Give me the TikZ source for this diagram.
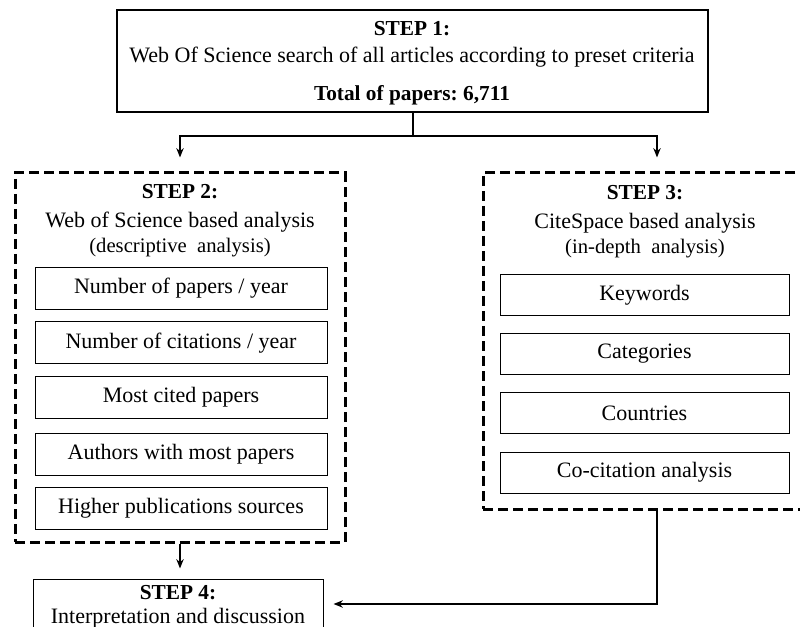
\documentclass[tikz,border=0pt]{standalone}
\usepackage{fontspec}
\setmainfont{Liberation Serif}
\usetikzlibrary{arrows.meta}
\frenchspacing

\tikzset{every picture/.style={line width=0.75pt}}
\tikzset{
  mainbox/.style={draw, line width=1pt, inner sep=0pt},
  dashbox/.style={draw, line width=2.25pt, dash pattern=on 7.5pt off 3.75pt, inner sep=0pt},
  itembox/.style={draw, line width=0.75pt, inner sep=0pt, font=\fontsize{16.5}{19}\selectfont},
  steptitle/.style={inner sep=0pt, font=\fontsize{16}{19}\selectfont\bfseries},
  steptext/.style={inner sep=0pt, font=\fontsize{16.5}{19}\selectfont},
  stepsub/.style={inner sep=0pt, font=\fontsize{15.5}{17}\selectfont},
  flowarrow/.style={line width=1.5pt, -{Stealth[length=7pt,width=5.5pt]}}
}

\begin{document}
\begin{tikzpicture}[x=0.75pt,y=0.75pt,yscale=-1,xscale=1]
    \useasboundingbox (0,0) rectangle (800,627);
    \clip (0,0) rectangle (800,627);

    % Step boxes
    \node [mainbox, minimum width=443.25pt, minimum height=76.5pt] (step1) at (412.5,61) {};
    \node [dashbox, minimum width=247.5pt, minimum height=276.75pt] (step2) at (180,357.5) {};
    \node [dashbox, minimum width=261pt, minimum height=252pt] (step3) at (657,341) {};
    \node [mainbox, line width=0.75pt, minimum width=217.5pt, minimum height=37.5pt] (step4) at (178,604) {};

    % Step 1 text
    \node [steptitle] (s1title) at (412,29) {STEP 1:};
    \node [steptext] (s1search) at (412,57) {Web Of Science search of all articles according to preset criteria};
    \node [steptitle] (s1total) at (412,95) {Total of papers: 6,711};

    % Step 2 text and items
    \node [steptitle] (s2title) at (180,192) {STEP 2:};
    \node [steptext] (s2name) at (180,222) {Web of Science based analysis};
    \node [stepsub] (s2kind) at (180,248) {(descriptive\ \ analysis)};
    \node [itembox, minimum width=219pt, minimum height=31.5pt] (papers) at (181,288.5) {Number of papers / year};
    \node [itembox, minimum width=219pt, minimum height=31.5pt] (citations) at (181,343) {Number of citations / year};
    \node [itembox, minimum width=219pt, minimum height=31.5pt] (mostcited) at (181,397.5) {Most cited papers};
    \node [itembox, minimum width=219pt, minimum height=31.5pt] (authors) at (181,454.5) {Authors with most papers};
    \node [itembox, minimum width=219pt, minimum height=31.5pt] (sources) at (181,508) {Higher publications sources};

    % Step 3 text and items
    \node [steptitle] (s3title) at (645,193) {STEP 3:};
    \node [steptext] (s3name) at (645,223) {CiteSpace based analysis};
    \node [stepsub] (s3kind) at (645,249) {(in-depth\ \ analysis)};
    \node [itembox, minimum width=216.75pt, minimum height=30.75pt] (keywords) at (644.5,295.5) {Keywords};
    \node [itembox, minimum width=216.75pt, minimum height=30.75pt] (categories) at (644.5,354) {Categories};
    \node [itembox, minimum width=216.75pt, minimum height=30.75pt] (countries) at (644.5,413) {Countries};
    \node [itembox, minimum width=216.75pt, minimum height=30.75pt] (cocitation) at (644.5,472.5) {Co-citation analysis};

    % Step 4 text
    \node [steptitle] (s4title) at (178,593) {STEP 4:};
    \node [steptext] (s4text) at (178,618) {Interpretation and discussion};

    % Connectors
    \draw [flowarrow, shorten >=10.5pt] (step1.south) -- ++(0,23) -| (step2.north);
    \draw [flowarrow, shorten >=10.5pt] (step1.south) -- ++(0,23) -| (step3.north);
    \draw [flowarrow, shorten >=7.5pt] (step2.south) -- (step2.south |- step4.north);
    \draw [flowarrow, shorten >=7.5pt] (step3.south) |- (step4.east);

\end{tikzpicture}
\end{document}
